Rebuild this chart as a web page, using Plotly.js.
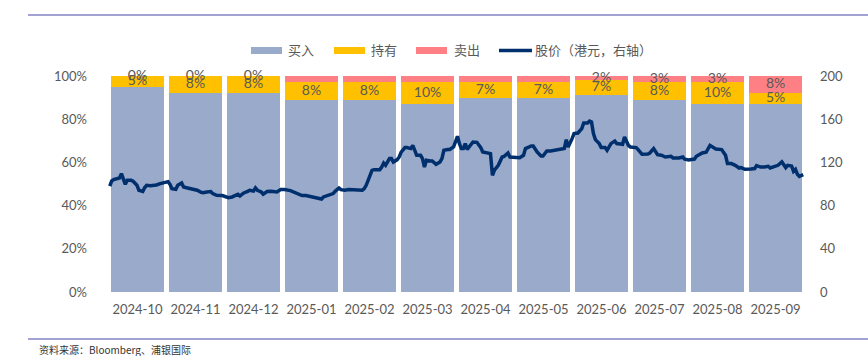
<!DOCTYPE html>
<html><head><meta charset="utf-8">
<script src="https://cdn.plot.ly/plotly-3.0.1.min.js"></script>
<style>html,body{margin:0;padding:0;background:#fff}</style>
</head><body><div id="chart" style="width:868px;height:356px"></div>
<script>
// ---- data ----
const months = ['2024-10','2024-11','2024-12','2025-01','2025-02','2025-03','2025-04','2025-05','2025-06','2025-07','2025-08','2025-09'];
const buyPct  = [95,92,92,89,89,87,90,90,91,89,87,87];
const holdPct = [5,8,8,8,8,10,7,7,7,8,10,5];
const sellPct = [0,0,0,3,3,3,3,3,2,3,3,8];
const sellLabels = ['0%','0%','0%','','','','','','2%','3%','3%','8%'];
const leftTicks = [0,20,40,60,80,100];
const rightTicks = [0,40,80,120,160,200];

const priceDates = [
'2024-10-05','2024-10-06','2024-10-07','2024-10-09','2024-10-10','2024-10-11','2024-10-12','2024-10-13','2024-10-14','2024-10-16','2024-10-17','2024-10-19','2024-10-20','2024-10-22','2024-10-23','2024-10-24','2024-10-26','2024-10-29','2024-10-31',
'2024-11-02','2024-11-04','2024-11-05','2024-11-06','2024-11-08','2024-11-09','2024-11-11','2024-11-12','2024-11-14','2024-11-16','2024-11-19','2024-11-21','2024-11-22','2024-11-24','2024-11-26','2024-11-27','2024-11-29',
'2024-12-02','2024-12-03','2024-12-05','2024-12-07','2024-12-09','2024-12-10','2024-12-11','2024-12-13','2024-12-15','2024-12-16','2024-12-18','2024-12-19','2024-12-20','2024-12-22','2024-12-23','2024-12-25','2024-12-27','2024-12-29','2024-12-30',
'2025-01-01','2025-01-03','2025-01-06','2025-01-08','2025-01-10','2025-01-12','2025-01-14','2025-01-16','2025-01-18','2025-01-20','2025-01-22','2025-01-23','2025-01-25','2025-01-27','2025-01-28','2025-01-29','2025-01-31',
'2025-02-01','2025-02-03','2025-02-05','2025-02-08','2025-02-10','2025-02-12','2025-02-13','2025-02-14','2025-02-16','2025-02-17','2025-02-18','2025-02-21','2025-02-22','2025-02-23','2025-02-24','2025-02-25','2025-02-26','2025-02-27','2025-02-28',
'2025-03-02','2025-03-03','2025-03-04','2025-03-06','2025-03-07','2025-03-09','2025-03-10','2025-03-11','2025-03-12','2025-03-14','2025-03-15','2025-03-16','2025-03-17','2025-03-19','2025-03-20','2025-03-22','2025-03-24','2025-03-25','2025-03-26','2025-03-28','2025-03-29','2025-03-31',
'2025-04-01','2025-04-02','2025-04-03','2025-04-04','2025-04-05','2025-04-06','2025-04-07','2025-04-09','2025-04-10','2025-04-12','2025-04-14','2025-04-15','2025-04-18','2025-04-19','2025-04-20','2025-04-21','2025-04-23','2025-04-25','2025-04-26','2025-04-28','2025-04-29',
'2025-05-02','2025-05-04','2025-05-06','2025-05-07','2025-05-10','2025-05-11','2025-05-13','2025-05-15','2025-05-16','2025-05-18','2025-05-20','2025-05-23','2025-05-25','2025-05-27','2025-05-28','2025-05-29','2025-05-31',
'2025-06-01','2025-06-03','2025-06-05','2025-06-06','2025-06-08','2025-06-09','2025-06-10','2025-06-11','2025-06-12','2025-06-14','2025-06-15','2025-06-17','2025-06-18','2025-06-20','2025-06-22','2025-06-23','2025-06-26','2025-06-27','2025-06-29','2025-06-30',
'2025-07-03','2025-07-04','2025-07-06','2025-07-09','2025-07-10','2025-07-12','2025-07-14','2025-07-16','2025-07-18','2025-07-21','2025-07-22','2025-07-25','2025-07-27','2025-07-28','2025-07-30',
'2025-08-02','2025-08-03','2025-08-06','2025-08-08','2025-08-10','2025-08-12','2025-08-13','2025-08-16','2025-08-18','2025-08-19','2025-08-21','2025-08-23','2025-08-25','2025-08-26','2025-08-28','2025-08-31',
'2025-09-02','2025-09-03','2025-09-05','2025-09-07','2025-09-09','2025-09-10','2025-09-12','2025-09-14','2025-09-16','2025-09-18','2025-09-19','2025-09-21','2025-09-22','2025-09-23','2025-09-24','2025-09-25','2025-09-27'];
const priceValues = [
98,102.8,104.1,105,105.6,109.6,104.1,99.7,103.4,103.4,102.5,98.8,94.2,93.2,96.7,98.8,98.5,99.1,100.4,
101.6,102.2,99.7,95.7,95.1,98.8,100.9,97.2,96.3,95.4,94.2,92.3,92,92.6,93,91.1,89.5,
89.3,88.6,87.4,88,89.5,90.5,88.9,91.7,93.2,94.2,93.5,96.3,94.2,92.6,90.5,93,93.2,93,92.6,
94.8,94.8,93.9,92.3,90.5,89.3,89.3,88.3,88,86.8,86.1,88,89.5,90.7,91.1,93.2,96.3,
94.8,94.2,94.8,94.2,94.2,94.2,95.7,98.8,108,112.7,113.3,113.3,115.7,119.4,117.3,120.4,123.5,123.5,120.4,
122.6,125,129.4,133.7,133.7,132.8,135.8,131.2,126.6,126.6,123.5,115.7,121.9,121.3,121.3,118.2,120.4,123.5,131.2,131.9,131.9,134.3,
140.5,144.2,137.4,132.8,132.8,137.4,132.1,137.4,138.9,138.6,133.7,129.6,128.7,128.1,108.1,112.7,117.3,125,125.6,128.7,125,
124.4,124.4,126.6,132.8,135.2,135.2,129.6,125.9,125.9,130.6,130.6,131.2,131.9,132.8,141.1,134.3,142,
146.7,147.2,151.3,156.5,156.5,158.3,157.4,146.7,141.1,137.4,133.7,133.7,131.2,137.4,139.8,137.4,136.8,143.5,135.8,134.3,
133.7,131.9,127.5,127.8,128.7,132.8,127.2,126.6,125,125.6,124.1,124.1,125,122.9,122.2,
123.1,125.6,128.7,129.4,135.8,133.7,132.4,131.9,126.6,118.9,118.9,117.3,114.8,115.2,113.6,113.9,
114.3,117,115.7,115.7,116.4,114.8,116.4,117.3,120.4,115.2,117.3,116.7,111.8,113.6,109,107.1,108.7];

// ---- styling ----
const W = 868, H = 356, L = 102, R = 57, T = 76, B = 64;
const C_BUY = '#99AACB', C_HOLD = '#FFC000', C_SELL = '#FF8084', C_LINE = '#002F6E';
const TXT = '#595959';
const FONT = 'Lato, "Noto Sans CJK SC", sans-serif';
const CJK = '"Noto Sans CJK SC", sans-serif';
const px2x = p => (p - L) / (W - L - R);
const py2y = p => (H - B - p) / (H - T - B);

const holdMid = months.map((m, i) => buyPct[i] + holdPct[i] / 2);
const sellMid = months.map((m, i) => buyPct[i] + holdPct[i] + sellPct[i] / 2);

const traces = [
  {type:'bar', x:months, y:buyPct, marker:{color:C_BUY}, hoverinfo:'skip', name:'买入'},
  {type:'bar', x:months, y:holdPct, marker:{color:C_HOLD}, hoverinfo:'skip', name:'持有'},
  {type:'bar', x:months, y:sellPct, marker:{color:C_SELL}, hoverinfo:'skip', name:'卖出'},
  {type:'scatter', mode:'text', x:months, y:holdMid, text:holdPct.map(v => v + '%'),
   textfont:{family:FONT, size:14, color:TXT}, hoverinfo:'skip', showlegend:false, cliponaxis:false},
  {type:'scatter', mode:'text', x:months, y:sellMid, text:sellLabels,
   textfont:{family:FONT, size:14, color:TXT}, hoverinfo:'skip', showlegend:false, cliponaxis:false},
  {type:'scatter', mode:'lines', x:priceDates, y:priceValues, xaxis:'x2', yaxis:'y2',
   line:{color:C_LINE, width:3.5}, hoverinfo:'skip', name:'股价（港元，右轴）'}
];

const shapes = [
  {type:'line', xref:'paper', yref:'paper', x0:px2x(28), x1:px2x(868), y0:py2y(15), y1:py2y(15), line:{color:'#A3A3D3', width:2}},
  {type:'line', xref:'paper', yref:'paper', x0:px2x(28), x1:px2x(868), y0:py2y(339), y1:py2y(339), line:{color:'#A3A3D3', width:2}},
  {type:'rect', xref:'paper', yref:'paper', x0:px2x(251), x1:px2x(282), y0:py2y(54), y1:py2y(47), fillcolor:C_BUY, line:{width:0}},
  {type:'rect', xref:'paper', yref:'paper', x0:px2x(334), x1:px2x(365), y0:py2y(54), y1:py2y(47), fillcolor:C_HOLD, line:{width:0}},
  {type:'rect', xref:'paper', yref:'paper', x0:px2x(416), x1:px2x(447), y0:py2y(54), y1:py2y(47), fillcolor:C_SELL, line:{width:0}},
  {type:'line', xref:'paper', yref:'paper', x0:px2x(499), x1:px2x(532), y0:py2y(50.5), y1:py2y(50.5), line:{color:C_LINE, width:3.5}}
];
const legendText = [['买入',286],['持有',369],['卖出',452],['股价（港元，右轴）',533]];
const annotations = legendText.map(([t, x]) => ({
  xref:'paper', yref:'paper', x:px2x(x), y:py2y(50), xanchor:'left', yanchor:'middle',
  text:t, showarrow:false, font:{family:CJK, size:13, color:TXT}
}));
annotations.push({xref:'paper', yref:'paper', x:px2x(37), y:py2y(349), xanchor:'left', yanchor:'middle',
  text:'资料来源：Bloomberg、浦银国际', showarrow:false, font:{family:CJK, size:10, color:'#333333'}});

const layout = {
  width:W, height:H, margin:{l:L, r:R, t:T, b:B, pad:0},
  paper_bgcolor:'#ffffff', plot_bgcolor:'#ffffff',
  barmode:'stack', bargap:0.085, showlegend:false,
  font:{family:FONT, size:13, color:TXT},
  xaxis:{type:'category', showgrid:false, zeroline:false, showline:false, ticks:'',
         tickfont:{family:FONT, size:13, color:TXT}, ticklabelstandoff:8, fixedrange:true},
  yaxis:{range:[0,100], tickvals:leftTicks, ticktext:leftTicks.map(v => v + '%'), showgrid:false, zeroline:false,
         showline:false, ticks:'', tickfont:{family:FONT, size:13, color:TXT}, ticklabelstandoff:14, fixedrange:true},
  xaxis2:{type:'date', overlaying:'x', range:['2024-10-01','2025-10-01'], visible:false, fixedrange:true},
  yaxis2:{overlaying:'y', side:'right', range:[0,200], tickvals:rightTicks, showgrid:false, zeroline:false,
          showline:false, ticks:'', tickfont:{family:FONT, size:13, color:TXT}, ticklabelstandoff:8, fixedrange:true},
  shapes:shapes, annotations:annotations
};

Plotly.newPlot('chart', traces, layout, {staticPlot:true, displayModeBar:false});
</script></body></html>
